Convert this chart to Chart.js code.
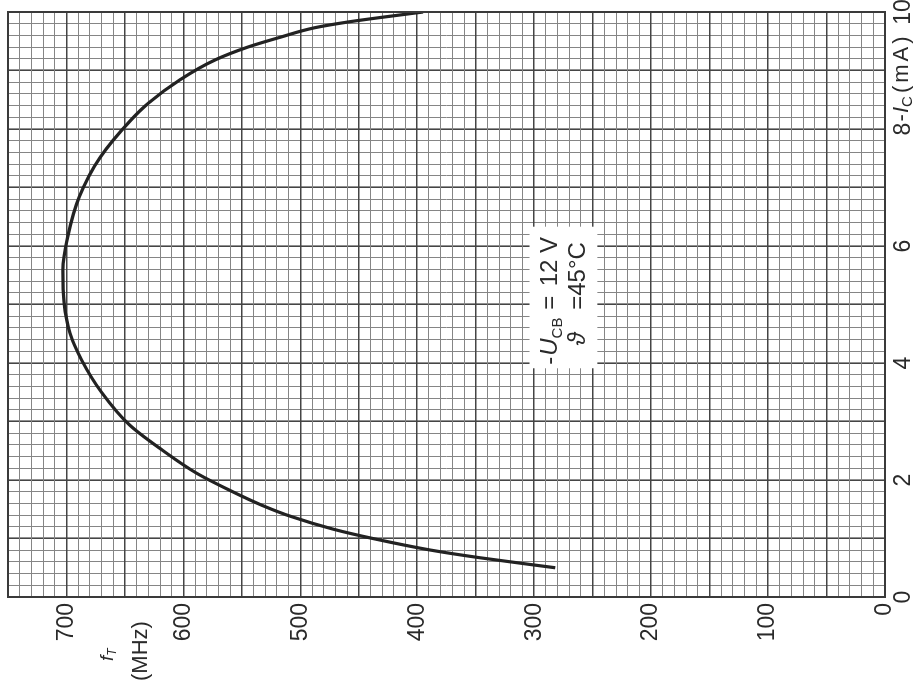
<!DOCTYPE html>
<html><head><meta charset="utf-8">
<script src="https://cdn.jsdelivr.net/npm/chart.js@4.4.1/dist/chart.umd.min.js"></script>
<style>
html,body{margin:0;padding:0;background:#fff;overflow:hidden;width:924px;height:683px;}
#wrap{position:absolute;left:0;top:0;width:683px;height:924px;transform-origin:0 0;transform:translate(0px,683px) rotate(-90deg);}
canvas{display:block;}
</style></head><body>
<div id="wrap"><canvas id="c" width="683" height="924"></canvas></div>
<script>
// collector current -I_C (mA)
const icValues = [0.5, 0.67, 0.8, 1.0, 1.16, 1.37, 1.57, 1.83, 2.12, 2.51, 2.94, 3.5, 4.05, 4.51, 5.03, 5.59, 6.15, 6.84, 7.52, 8.15, 8.44, 8.84, 9.18, 9.40, 9.57, 9.73, 9.83, 9.91, 10.0];
// transition frequency f_T (MHz)
const ftValues = [282, 346, 388, 438, 472, 507, 533, 561, 589, 618, 646, 670, 687, 697, 702, 703, 699, 689, 671, 645, 630, 603, 573, 545, 517, 488, 459, 430, 395];
const icTickLabels = [0, 2, 4, 6, 8, 10];
const ftTickLabels = [0, 100, 200, 300, 400, 500, 600, 700];
const icRange = [0, 10];
const ftRange = [0, 750];
const icMinorStep = 0.2;
const ftMinorStep = 10;

const SANS = '"Liberation Sans", Arial, sans-serif';
const INK = '#2a2a2a';
const FINE = '#858585';
const BOLD = '#454545';

const points = icValues.map((v, i) => ({x: v, y: ftValues[i]}));
const near = (a, b) => Math.abs(a - b) < 1e-6;

function makeTicks(range, step) {
  const out = [];
  const n = Math.round((range[1] - range[0]) / step);
  for (let i = 0; i <= n; i++) out.push({value: Math.round((range[0] + i * step) * 1000) / 1000});
  return out;
}

function run(ctx, x, y, parts) {
  for (const p of parts) {
    ctx.font = p.font;
    ctx.letterSpacing = p.ls || '0px';
    ctx.fillText(p.t, x, y + (p.dy || 0));
    x += ctx.measureText(p.t).width + (p.gap || 0);
  }
  ctx.letterSpacing = '0px';
  return x;
}

const overlay = {
  id: 'overlay',
  beforeDatasetsDraw(chart) {
    const ctx = chart.ctx, xs = chart.scales.x, ys = chart.scales.y;
    const x0 = xs.getPixelForValue(3.91), x1 = xs.getPixelForValue(6.33);
    const y0 = ys.getPixelForValue(304), y1 = ys.getPixelForValue(246);
    ctx.save();
    ctx.fillStyle = '#fff';
    ctx.fillRect(x0, y0, x1 - x0, y1 - y0);
    ctx.restore();
  },
  afterDatasetsDraw(chart) {
    const ctx = chart.ctx, a = chart.chartArea, xs = chart.scales.x, ys = chart.scales.y;
    ctx.save();
    ctx.strokeStyle = '#3a3a3a';
    ctx.lineWidth = 2;
    ctx.strokeRect(a.left, a.top, a.right - a.left, a.bottom - a.top);
    ctx.fillStyle = INK;
    ctx.textBaseline = 'alphabetic';
    ctx.textAlign = 'left';
    const b1 = ys.getPixelForValue(280.5), b2 = ys.getPixelForValue(256.5);
    run(ctx, xs.getPixelForValue(3.97), b1, [
      {t: '-', font: '24px ' + SANS, gap: 1},
      {t: 'U', font: 'italic 24px ' + SANS},
      {t: 'CB', font: '15px ' + SANS, dy: 5}
    ]);
    run(ctx, xs.getPixelForValue(4.91), b1, [{t: '=', font: '24px ' + SANS}]);
    run(ctx, xs.getPixelForValue(5.31), b1, [{t: '12 V', font: '24px ' + SANS}]);
    run(ctx, xs.getPixelForValue(4.30), b2, [{t: 'ϑ', font: 'italic 24px ' + SANS}]);
    run(ctx, xs.getPixelForValue(4.91), b2, [{t: '=', font: '24px ' + SANS}]);
    run(ctx, xs.getPixelForValue(5.15), b2, [{t: '45°C', font: '24px ' + SANS}]);
    const bx = a.bottom + 23;
    run(ctx, xs.getPixelForValue(8.13), bx, [
      {t: '-', font: '22px ' + SANS, gap: 1},
      {t: 'I', font: 'italic 22px ' + SANS},
      {t: 'C', font: '15px ' + SANS, dy: 4, gap: 3},
      {t: '(mA)', font: '22px ' + SANS, ls: '3px'}
    ]);
    run(ctx, a.left - 64, ys.getPixelForValue(660), [
      {t: 'f', font: 'italic 19px ' + SANS},
      {t: 'T', font: 'italic 12px ' + SANS, dy: 3}
    ]);
    run(ctx, a.left - 84, ys.getPixelForValue(631), [{t: '(MHz)', font: '22px ' + SANS}]);
    ctx.restore();
  }
};

new Chart(document.getElementById('c'), {
  type: 'scatter',
  data: {
    datasets: [{
      data: points,
      showLine: true,
      borderColor: '#222',
      borderWidth: 3.2,
      pointRadius: 0,
      fill: false,
      cubicInterpolationMode: 'monotone'
    }]
  },
  options: {
    responsive: false,
    animation: false,
    devicePixelRatio: 1,
    layout: {padding: {top: 8, right: 12, left: 0, bottom: 0}},
    plugins: {legend: {display: false}, tooltip: {enabled: false}},
    scales: {
      x: {
        type: 'linear', position: 'bottom', min: icRange[0], max: icRange[1],
        afterBuildTicks(s) { s.ticks = makeTicks(icRange, icMinorStep); },
        afterFit(s) { s.height = 39; s.paddingLeft = 0; s.paddingRight = 0; },
        ticks: {
          autoSkip: false, maxRotation: 0, minRotation: 0, padding: 5, color: INK,
          font: {family: SANS, size: 23},
          callback: v => icTickLabels.some(t => near(t, v)) ? String(Math.round(v)) : ''
        },
        grid: {
          drawTicks: false,
          color: c => near(c.tick.value, Math.round(c.tick.value)) ? BOLD : FINE,
          lineWidth: c => near(c.tick.value, Math.round(c.tick.value)) ? 1.6 : 1
        },
        border: {display: false}
      },
      y: {
        type: 'linear', position: 'left', min: ftRange[0], max: ftRange[1],
        afterBuildTicks(s) { s.ticks = makeTicks(ftRange, ftMinorStep); },
        afterFit(s) { s.width = 86; s.paddingTop = 0; s.paddingBottom = 0; },
        ticks: {
          autoSkip: false, padding: 6, color: INK,
          font: {family: SANS, size: 23},
          callback: v => ftTickLabels.includes(Math.round(v)) && near(v, Math.round(v)) ? String(Math.round(v)) : ''
        },
        grid: {
          drawTicks: false,
          color: c => (Math.round(c.tick.value) % 50 === 0) ? BOLD : FINE,
          lineWidth: c => (Math.round(c.tick.value) % 50 === 0) ? 1.6 : 1
        },
        border: {display: false}
      }
    }
  },
  plugins: [overlay]
});
</script>
</body></html>
